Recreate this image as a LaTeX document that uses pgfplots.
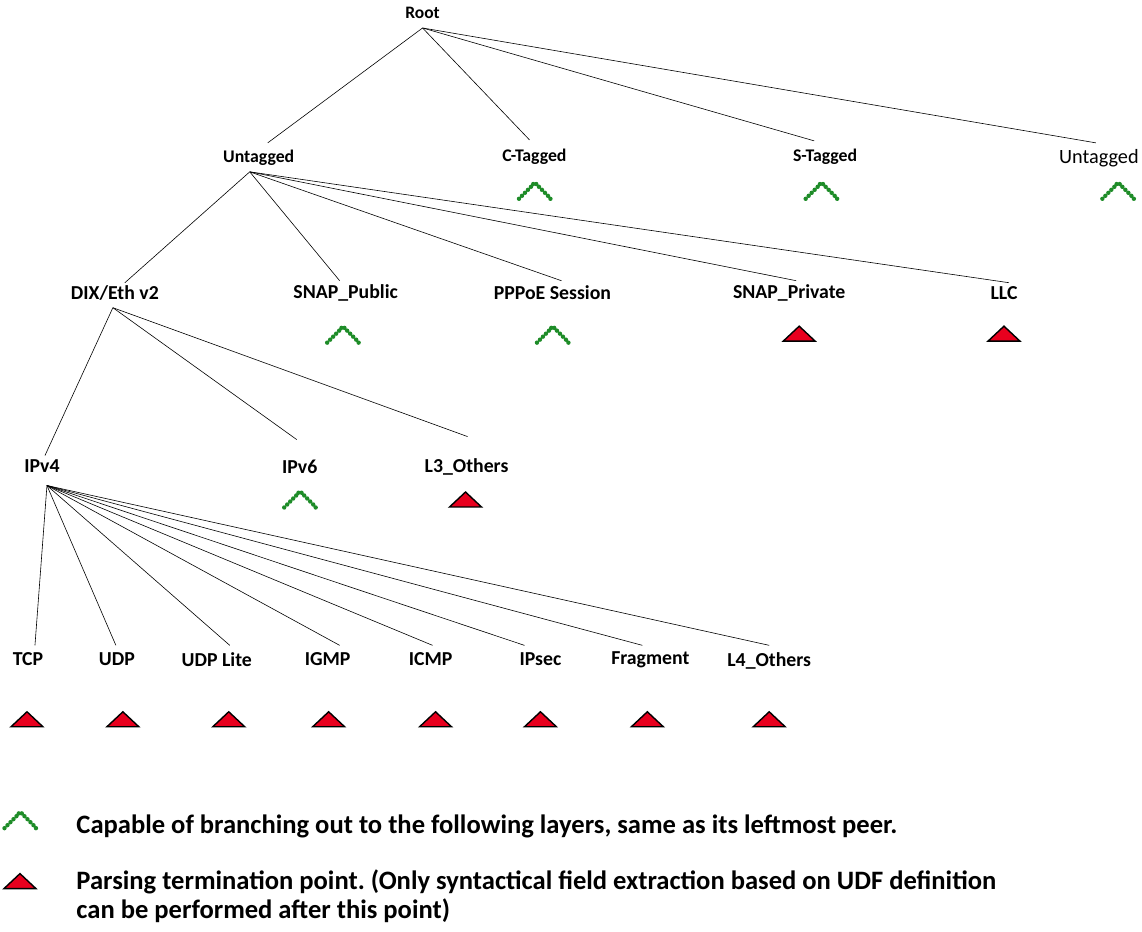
\documentclass[border=0pt]{standalone}
\usepackage{fontspec}
\setmainfont{Carlito}
\usepackage{pgfplots}
\pgfplotsset{compat=1.18}
\definecolor{cgreen}{RGB}{30,140,40}
\definecolor{tred}{RGB}{232,0,30}
\pgfdeclareplotmark{caret}{%
  \foreach \px/\py in {-15.5/-8,-12.5/-5,-9.5/-2,-6.5/1,-3.5/4,-1.2/6.8,1.8/6.8,4.5/4,7.5/1,10.5/-2,13.5/-5,16/-8}{%
    \pgfpathcircle{\pgfpoint{\px pt}{\py pt}}{2.2pt}}%
  \pgfusepathqfill}
\pgfdeclareplotmark{redtri}{%
  \pgfpathmoveto{\pgfpoint{-16pt}{-7.5pt}}%
  \pgfpathlineto{\pgfpoint{16pt}{-7.5pt}}%
  \pgfpathlineto{\pgfpoint{0pt}{7.5pt}}%
  \pgfpathclose
  \pgfusepathqfillstroke}
\begin{document}
\frenchspacing
\begin{tikzpicture}
\begin{axis}[
  width=1142pt, height=932pt, scale only axis,
  xmin=0, xmax=1142, ymin=0, ymax=932, y dir=reverse,
  hide axis, clip=false,
]
\path (rel axis cs:0,0) (rel axis cs:1,1);
% ---- edges
\pgfplotsset{edge/.style={black, line width=0.6pt, no marks}}
% Root
\addplot[edge] coordinates {(423,28) (268,143)};
\addplot[edge] coordinates {(423,28) (530,140)};
\addplot[edge] coordinates {(423,28) (815,141)};
\addplot[edge] coordinates {(423,28) (1097,143)};
% Untagged
\addplot[edge] coordinates {(250,172) (125,283)};
\addplot[edge] coordinates {(250,172) (340,281)};
\addplot[edge] coordinates {(250,172) (562,281)};
\addplot[edge] coordinates {(250,172) (797,281)};
\addplot[edge] coordinates {(250,172) (1010,283)};
% DIX
\addplot[edge] coordinates {(113,308) (45,456)};
\addplot[edge] coordinates {(113,308) (297,440)};
\addplot[edge] coordinates {(113,308) (468,437)};
% IPv4
\addplot[edge] coordinates {(47,486) (35,646)};
\addplot[edge] coordinates {(47,486) (116,646)};
\addplot[edge] coordinates {(47,486) (230,646)};
\addplot[edge] coordinates {(47,486) (340,646)};
\addplot[edge] coordinates {(47,486) (433,646)};
\addplot[edge] coordinates {(47,486) (525,646)};
\addplot[edge] coordinates {(47,486) (643,646)};
\addplot[edge] coordinates {(47,486) (770,646)};
% ---- markers
\addplot[only marks, mark=caret, mark options={fill=cgreen, draw=none}] coordinates {
 (535,191) (822,191) (1119,191) (343,335) (553,335) (300,500) (20,821)};
\addplot[only marks, mark=redtri, mark options={fill=tred, draw=black, line width=1.4pt}] coordinates {
 (800,334) (1005,334) (466,500)
 (27,720) (123,720) (229,720) (329,720) (436,720) (541,720) (648,720) (770,720)
 (20,882)};
% ---- labels
\pgfplotsset{every node/.append style={inner sep=0pt}}
\def\fa{\bfseries\fontsize{17.8}{20}\selectfont}
\def\fb{\bfseries\fontsize{19.8}{22}\selectfont}
\node[font=\bfseries\fontsize{17.5}{20}\selectfont] at (axis cs:423,13) {Root};
\node[font=\fa] at (axis cs:259,158) {Untagged};
\node[font=\fa] at (axis cs:535,157) {C-Tagged};
\node[font=\fa] at (axis cs:826,157) {S-Tagged};
\node[font=\fontsize{20.3}{22}\selectfont] at (axis cs:1100,158) {Untagged};
\node[font=\fb] at (axis cs:115,293) {DIX/Eth v2};
\node[font=\fb] at (axis cs:346,293) {SNAP\_Public};
\node[font=\fb] at (axis cs:553,293) {PPPoE Session};
\node[font=\fb] at (axis cs:790,293) {SNAP\_Private};
\node[font=\fb] at (axis cs:1005,293) {LLC};
\node[font=\fb] at (axis cs:42,467) {IPv4};
\node[font=\fb] at (axis cs:300,467) {IPv6};
\node[font=\fb] at (axis cs:467,467) {L3\_Others};
\node[font=\fb] at (axis cs:28,660) {TCP};
\node[font=\fb] at (axis cs:117,660) {UDP};
\node[font=\fb] at (axis cs:217,660) {UDP Lite};
\node[font=\fb] at (axis cs:328,660) {IGMP};
\node[font=\fb] at (axis cs:431,660) {ICMP};
\node[font=\fb] at (axis cs:541,660) {IPsec};
\node[font=\fb] at (axis cs:651,660) {Fragment};
\node[font=\fb] at (axis cs:770,662) {L4\_Others};
\def\fl{\bfseries\fontsize{26.6}{28}\selectfont}
\node[font=\fl, anchor=west] at (axis cs:73,827) {Capable of branching out to the following layers, same as its leftmost peer.};
\node[font=\fl, anchor=west] at (axis cs:73,883) {Parsing termination point. (Only syntactical field extraction based on UDF definition};
\node[font=\fl, anchor=west] at (axis cs:73,912) {can be performed after this point)};
\end{axis}
\end{tikzpicture}
\end{document}
